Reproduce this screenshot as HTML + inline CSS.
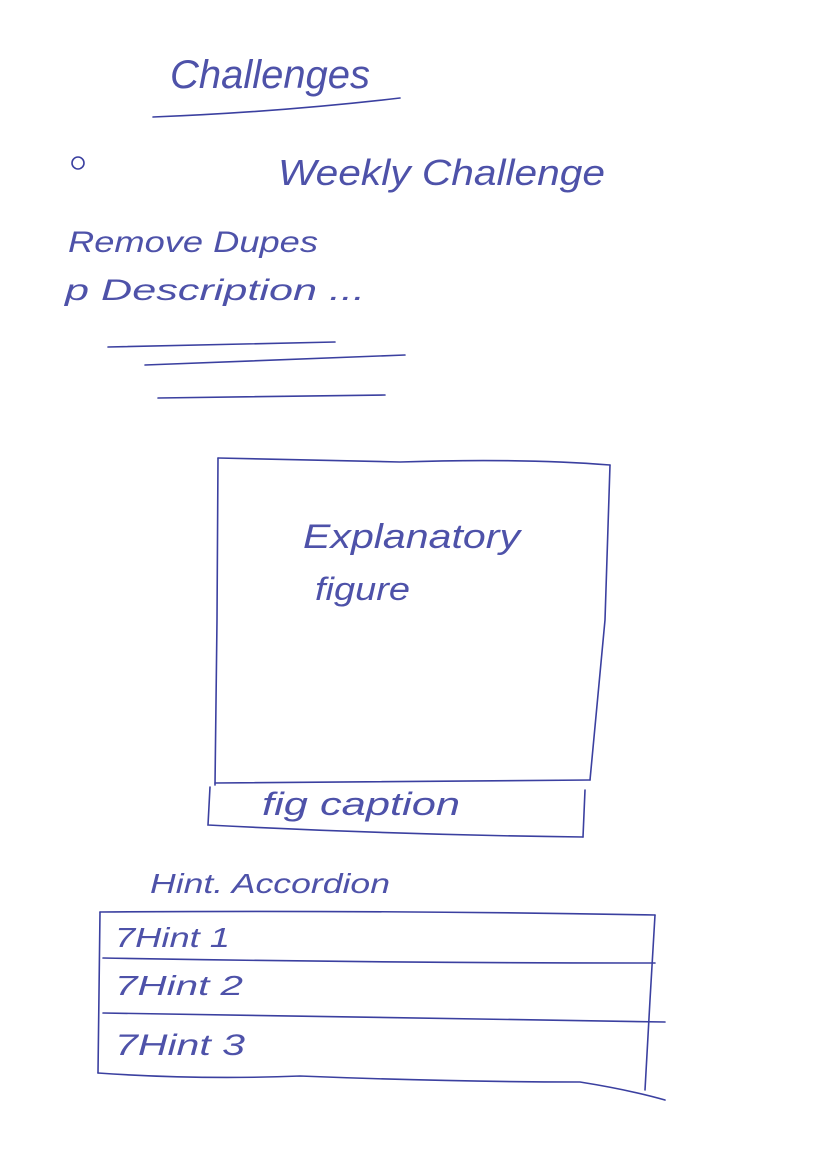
<!DOCTYPE html>
<html><head><meta charset="utf-8"><style>
html,body{margin:0;padding:0;background:#fff;}
svg{display:block;}
text{font-family:"Liberation Sans",sans-serif;fill:#3b40a0;font-style:italic;font-weight:normal;opacity:0.9;}
</style></head><body>
<svg width="826" height="1168" viewBox="0 0 826 1168" xmlns="http://www.w3.org/2000/svg">
<g fill="none" stroke="#3b40a0" stroke-width="1.6" stroke-linecap="round">
<path d="M153 117 Q280 112 400 98"/>
<circle cx="78" cy="163" r="6"/>
<path d="M108 347 L335 342"/>
<path d="M145 365 Q280 360 405 355"/>
<path d="M158 398 Q280 396 385 395"/>
<path d="M218 458 Q300 460 400 462 Q520 458 610 465"/>
<path d="M218 458 L217 620 L215 785"/>
<path d="M610 465 L605 620 L590 780"/>
<path d="M215 783 L590 780"/>
<path d="M210 787 L208 825 Q400 835 583 837"/>
<path d="M585 790 L583 837"/>
<path d="M100 912 Q380 910 655 915"/>
<path d="M100 912 L98 1073"/>
<path d="M655 915 L650 1000 L645 1090"/>
<path d="M103 958 Q380 963 655 963"/>
<path d="M103 1013 Q380 1018 665 1022"/>
<path d="M98 1073 Q200 1080 300 1076 Q450 1082 580 1082 Q630 1090 665 1100"/>
</g>
<text x="170" y="88" font-size="40" textLength="200" lengthAdjust="spacingAndGlyphs">Challenges</text>
<text x="278" y="185" font-size="36" textLength="327" lengthAdjust="spacingAndGlyphs">Weekly Challenge</text>
<text x="68" y="252" font-size="30" textLength="250" lengthAdjust="spacingAndGlyphs">Remove Dupes</text>
<text x="65" y="300" font-size="30" textLength="300" lengthAdjust="spacingAndGlyphs">p Description ...</text>
<text x="303" y="548" font-size="34" textLength="217" lengthAdjust="spacingAndGlyphs">Explanatory</text>
<text x="315" y="600" font-size="32" textLength="95" lengthAdjust="spacingAndGlyphs">figure</text>
<text x="262" y="815" font-size="32" textLength="198" lengthAdjust="spacingAndGlyphs">fig caption</text>
<text x="150" y="893" font-size="28" textLength="240" lengthAdjust="spacingAndGlyphs">Hint. Accordion</text>
<text x="115" y="947" font-size="28" textLength="115" lengthAdjust="spacingAndGlyphs">7Hint 1</text>
<text x="115" y="995" font-size="28" textLength="128" lengthAdjust="spacingAndGlyphs">7Hint 2</text>
<text x="115" y="1055" font-size="30" textLength="130" lengthAdjust="spacingAndGlyphs">7Hint 3</text>
</svg>
</body></html>
